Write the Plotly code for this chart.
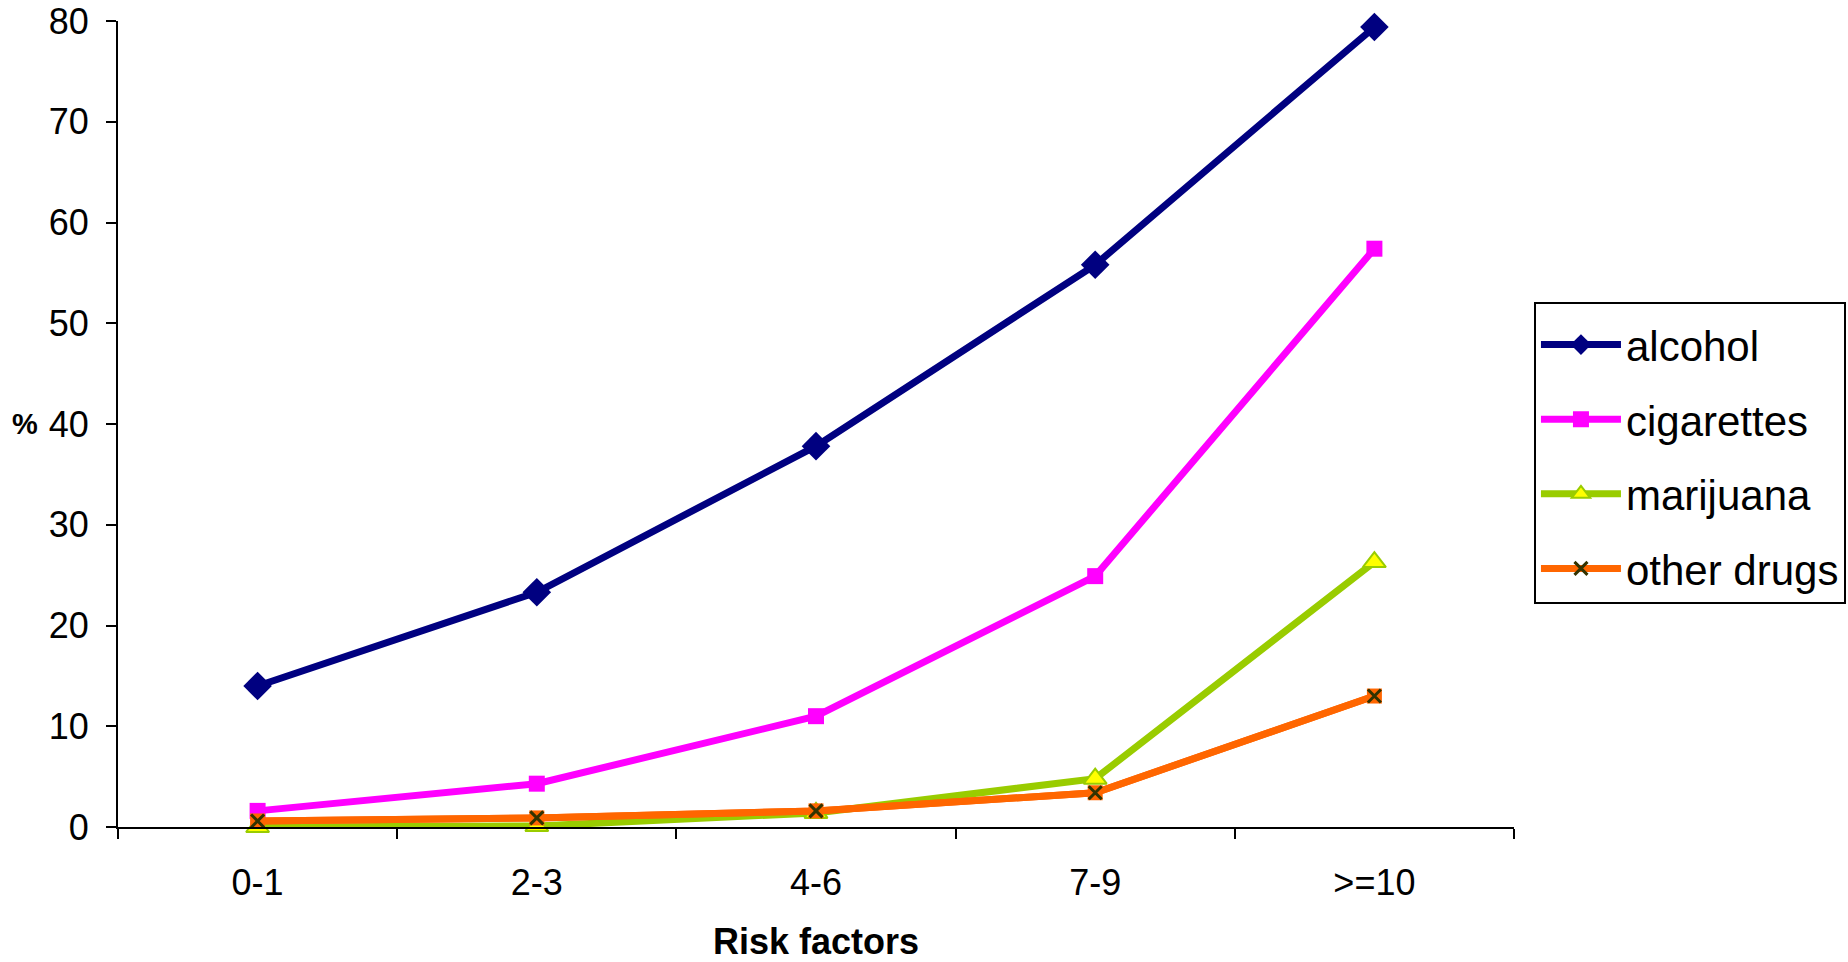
import plotly.graph_objects as go

categories = ["0-1", "2-3", "4-6", "7-9", ">=10"]
alcohol = [14.0, 23.3, 37.8, 55.8, 79.4]
cigarettes = [1.6, 4.3, 11.0, 24.9, 57.4]
marijuana = [0.0, 0.1, 1.4, 4.8, 26.3]
other_drugs = [0.6, 0.9, 1.6, 3.4, 13.0]
y_ticks = [0, 10, 20, 30, 40, 50, 60, 70, 80]

FONT = "Liberation Sans, Arial, sans-serif"

fig = go.Figure()
fig.add_trace(go.Scatter(x=categories, y=alcohol, name="alcohol", mode="lines+markers",
                         line=dict(color="#000080", width=7),
                         marker=dict(symbol="diamond", size=22, color="#000080"),
                         legendgroup="a", cliponaxis=False))
fig.add_trace(go.Scatter(x=categories, y=cigarettes, name="cigarettes", mode="lines+markers",
                         line=dict(color="#FF00FF", width=7),
                         marker=dict(symbol="square", size=16, color="#FF00FF"),
                         legendgroup="b", cliponaxis=False))
fig.add_trace(go.Scatter(x=categories, y=marijuana, name="marijuana", mode="lines+markers",
                         line=dict(color="#99CC00", width=7),
                         marker=dict(symbol="triangle-up", size=20, color="#FFFF00",
                                     line=dict(color="#99CC00", width=2)),
                         legendgroup="c", cliponaxis=False))
fig.add_trace(go.Scatter(x=categories, y=other_drugs, name="other drugs", mode="lines+markers",
                         line=dict(color="#FF6600", width=7),
                         marker=dict(symbol="square", size=15, color="#FF6600"),
                         legendgroup="d", showlegend=False, cliponaxis=False))
fig.add_trace(go.Scatter(x=categories, y=other_drugs, name="other drugs", mode="lines+markers",
                         line=dict(color="#FF6600", width=7),
                         marker=dict(symbol="x-thin", size=13, color="#333300",
                                     line=dict(color="#333300", width=3)),
                         legendgroup="d", cliponaxis=False))

fig.update_layout(
    width=1848, height=962,
    paper_bgcolor="white", plot_bgcolor="white",
    margin=dict(l=118, r=334, t=21, b=135, autoexpand=False),
    font=dict(family=FONT, size=36, color="black"),
    showlegend=True,
    legend=dict(x=1.0143, y=0.651, xanchor="left", yanchor="top",
                bordercolor="black", borderwidth=2, bgcolor="white",
                font=dict(family=FONT, size=42, color="black"),
                title=dict(text=" ", font=dict(family=FONT, size=5)),
                traceorder="grouped", tracegroupgap=17,
                itemwidth=80),
    xaxis=dict(type="category", range=[-0.5, 4.5], showgrid=False, zeroline=False,
               automargin=False,
               showline=True, linecolor="black", linewidth=2,
               ticks="outside", tickson="boundaries", ticklen=10, tickwidth=2, tickcolor="black",
               tickfont=dict(family=FONT, size=36), ticklabelstandoff=23,
               title=dict(text="<b>Risk factors</b>", font=dict(family=FONT, size=36), standoff=27)),
    yaxis=dict(range=[0, 80], tickvals=y_ticks, showgrid=False, zeroline=False,
               automargin=False,
               showline=True, linecolor="black", linewidth=2,
               ticks="outside", ticklen=10, tickwidth=2, tickcolor="black",
               tickfont=dict(family=FONT, size=36), ticklabelstandoff=10),
    annotations=[dict(text="<b>%</b>", xref="paper", yref="paper", x=-0.0666, y=0.5,
                      xanchor="center", yanchor="middle", showarrow=False,
                      font=dict(family=FONT, size=29, color="black"))],
)

fig.write_html("out.html", config={"displayModeBar": False},
               post_script="document.body.style.margin='0';")
